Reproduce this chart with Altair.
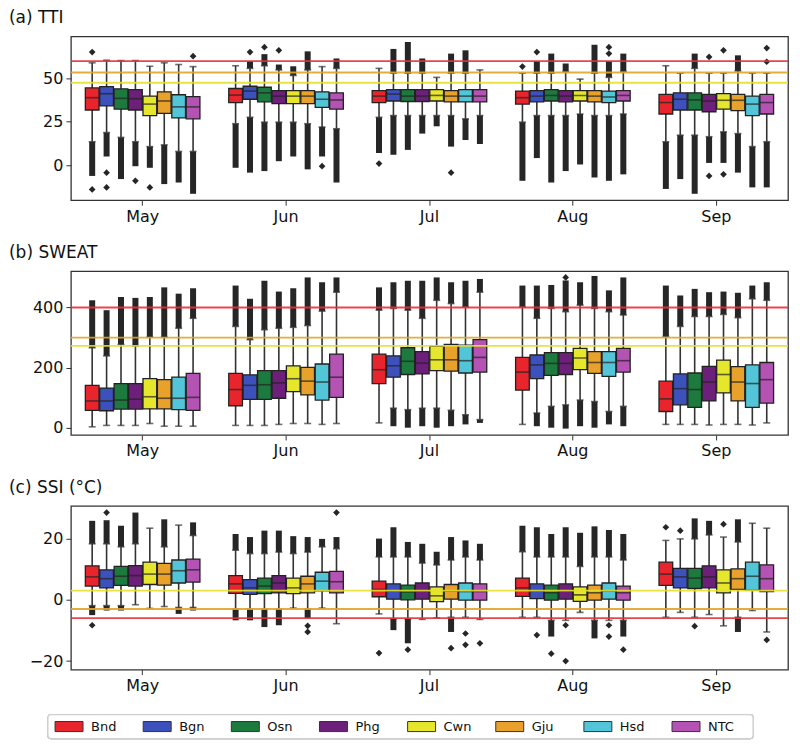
import altair as alt
import pandas as pd

MONTHS = ["May", "Jun", "Jul", "Aug", "Sep"]
STATIONS = ["Bnd", "Bgn", "Osn", "Phg", "Cwn", "Gju", "Hsd", "NTC"]
COLORS = ["#e8252d", "#3d51bd", "#1d7a3f", "#6c207a", "#e6e62c", "#e8a12a", "#52c6d8", "#b453b4"]

# ---------------- (a) TTI ----------------
TTI_Q1 = [[31.8, 34.2, 32.3, 31.8, 28.6, 29.9, 27.3, 26.7],
          [36.1, 38.0, 36.5, 35.5, 35.5, 35.5, 33.3, 32.3],
          [36.1, 37.0, 36.7, 36.7, 37.0, 36.5, 36.5, 36.5],
          [35.2, 36.5, 37.0, 36.5, 37.0, 36.5, 36.1, 37.0],
          [29.5, 31.8, 31.8, 30.8, 32.3, 31.4, 28.6, 29.5]]
TTI_MED = [[38.9, 41.2, 38.5, 38.3, 35.2, 37.0, 33.6, 33.6],
           [40.4, 42.7, 41.7, 39.8, 39.8, 39.8, 38.0, 37.6],
           [39.8, 41.0, 39.8, 39.8, 40.2, 39.8, 39.8, 39.8],
           [38.9, 39.8, 40.2, 39.8, 40.2, 39.8, 39.3, 40.2],
           [36.1, 38.0, 37.6, 37.0, 37.4, 37.4, 35.2, 36.1]]
TTI_Q3 = [[44.5, 45.3, 44.0, 43.6, 39.8, 42.3, 40.6, 39.5],
          [44.2, 45.5, 44.9, 43.0, 43.0, 43.0, 42.3, 41.7],
          [43.0, 43.6, 43.6, 43.6, 43.6, 43.0, 43.6, 43.6],
          [42.7, 43.0, 43.6, 43.0, 43.0, 43.0, 42.7, 43.0],
          [40.8, 41.7, 41.7, 40.8, 41.2, 40.8, 39.8, 40.8]]
TTI_WLO = [[13.5, 18.8, 16.0, 13.5, 10.7, 11.7, 7.9, 7.9],
           [23.9, 27.6, 24.8, 24.8, 24.8, 23.9, 22.0, 21.0],
           [27.6, 28.6, 28.6, 28.6, 28.6, 28.6, 26.7, 28.6],
           [24.8, 28.6, 28.6, 28.6, 29.5, 28.6, 28.6, 29.5],
           [13.5, 17.3, 17.3, 16.4, 19.2, 18.2, 10.7, 13.5]]
TTI_WHI = [[59.0, 60.5, 60.3, 60.3, 57.0, 59.0, 58.0, 56.8],
           [57.3, 55.8, 57.3, 54.9, 51.7, 54.9, 56.8, 55.8],
           [55.8, 53.0, 53.0, 53.0, 50.6, 53.0, 53.0, 54.9],
           [53.0, 53.0, 53.0, 54.0, 49.6, 53.0, 50.6, 54.0],
           [57.3, 53.0, 55.8, 53.0, 53.0, 54.3, 53.0, 53.0]]
TTI_OLO = [[-6.2, 5.0, -8.0, -0.6, -1.5, -10.9, -10.0, -16.5],
           [-1.5, -4.3, -3.4, 2.3, 5.0, -2.4, 5.0, -10.0],
           [7.0, 6.0, 8.8, 18.2, 22.4, 10.7, 14.5, 12.2],
           [-9.0, 4.1, -10.0, -3.4, 0.4, -7.1, -9.0, -5.3],
           [-13.7, -8.0, -16.5, 1.3, 1.3, -4.3, -12.8, -12.8]]
TTI_OHI = [[59.0, 60.5, 60.3, 60.3, 57.0, 59.0, 58.0, 56.8],
           [57.3, 60.0, 64.0, 58.0, 57.0, 65.6, 56.8, 61.5],
           [55.8, 67.0, 71.0, 61.5, 50.6, 64.3, 66.2, 54.9],
           [53.0, 60.0, 64.3, 58.6, 49.6, 69.4, 60.0, 64.3],
           [57.3, 53.0, 64.3, 53.0, 53.0, 63.3, 53.0, 53.0]]
TTI_ISO = [("May", "Bnd", 65.2), ("May", "Bnd", -14.0), ("May", "Bgn", -4.3), ("May", "Bgn", -12.8),
           ("May", "Phg", -9.0), ("May", "Cwn", -12.8), ("May", "NTC", 62.8),
           ("Jun", "Bgn", 65.2), ("Jun", "Osn", 68.0), ("Jun", "Phg", 66.2), ("Jun", "Hsd", -0.6),
           ("Jul", "Bnd", 0.9), ("Jul", "Gju", -4.3),
           ("Aug", "Bnd", 56.8), ("Aug", "Bgn", 65.2), ("Aug", "Hsd", 64.3), ("Aug", "Hsd", 68.0),
           ("Sep", "Phg", 62.4), ("Sep", "Phg", -6.2), ("Sep", "Cwn", 66.2), ("Sep", "Cwn", -5.3),
           ("Sep", "NTC", 59.6), ("Sep", "NTC", 67.5)]
TTI_LINES = [60, 53.4, 47.5]

# ---------------- (b) SWEAT ----------------
SW_Q1 = [[57.6, 56.5, 62, 62, 63, 63, 60, 57.6],
         [73, 94.6, 94.6, 98, 120, 109, 92, 101],
         [147, 168, 177, 179, 190, 188, 182, 185],
         [125, 163, 174, 177, 193, 181, 171, 185],
         [54, 76, 68, 89, 116, 89, 68, 82]]
SW_MED = [[89, 89, 92, 95, 103, 98, 98, 101],
          [127, 141, 143, 149, 163, 155, 152, 168],
          [193, 206, 221, 215, 226, 226, 223, 234],
          [185, 209, 214, 214, 232, 217, 217, 223],
          [96, 130, 127, 152, 177, 152, 147, 160]]
SW_Q3 = [[141, 132, 147, 147, 163, 160, 168, 181],
         [181, 176, 190, 190, 206, 201, 212, 245],
         [245, 239, 266, 253, 271, 277, 275, 293],
         [234, 242, 250, 250, 264, 253, 253, 264],
         [155, 179, 182, 204, 225, 203, 209, 217]]
SW_WLO = [[3, 7.6, 7.6, 7.6, 14, 5, 5, 5],
          [7.6, 7.6, 7.6, 11, 14, 14, 11, 14],
          [16, 65, 60, 65, 65, 58, 43, 27],
          [11, 49, 71, 76, 92, 87, 54, 71],
          [11, 11, 11, 9, 11, 11, 9, 16]]
SW_WHI = [[266, 239, 277, 272, 301, 301, 331, 364],
          [337, 293, 326, 331, 334, 340, 388, 451],
          [391, 397, 391, 364, 424, 413, 402, 451],
          [402, 364, 397, 386, 408, 397, 386, 375],
          [304, 337, 370, 370, 377, 366, 429, 424]]
SW_OLO = [[3, 7.6, 7.6, 7.6, 14, 5, 5, 5],
          [7.6, 7.6, 7.6, 11, 14, 14, 11, 14],
          [16, 5, 0, 5, 0, 5, 11, 16],
          [11, 5, 0, -3, 5, 0, 11, 5],
          [11, 11, 11, 9, 11, 11, 9, 16]]
SW_OHI = [[424, 391, 435, 432, 435, 467, 446, 464],
          [473, 429, 489, 453, 464, 500, 484, 500],
          [467, 484, 489, 489, 500, 484, 489, 495],
          [473, 473, 475, 490, 484, 505, 457, 500],
          [473, 440, 462, 451, 453, 449, 473, 484]]
SW_ISO = [("Aug", "Phg", 500)]
SW_LINES = [400, 300, 272]

# ---------------- (c) SSI ----------------
SSI_Q1 = [[4.5, 3.9, 4.7, 4.5, 5.0, 4.8, 5.5, 5.8],
          [2.1, 1.8, 2.0, 2.3, 2.0, 2.3, 2.9, 2.3],
          [1.0, 0.2, 0.0, 0.2, -0.6, 0.2, -0.1, -0.1],
          [1.1, 0.4, -0.1, 0.2, -0.5, -0.1, 0.2, -0.1],
          [4.7, 3.9, 3.7, 3.9, 2.3, 3.4, 3.1, 2.7]]
SSI_MED = [[7.5, 6.9, 7.7, 7.9, 8.4, 8.4, 9.5, 9.8],
           [5.2, 3.9, 4.5, 5.5, 3.9, 5.2, 6.1, 5.9],
           [3.4, 2.9, 2.6, 2.9, 1.3, 2.9, 2.7, 2.7],
           [3.9, 2.9, 2.3, 2.9, 1.6, 2.3, 2.9, 2.3],
           [8.4, 7.5, 7.1, 7.5, 5.5, 6.9, 7.7, 6.9]]
SSI_Q3 = [[11.1, 9.8, 10.9, 11.2, 12.3, 11.9, 13.0, 13.3],
          [7.9, 6.6, 7.1, 7.9, 7.1, 7.7, 9.0, 9.3],
          [6.1, 5.2, 4.8, 5.5, 4.2, 5.0, 5.5, 5.2],
          [7.1, 5.2, 4.8, 5.2, 4.2, 4.8, 5.5, 4.5],
          [12.3, 10.3, 10.3, 11.1, 9.8, 10.1, 12.3, 11.4]]
SSI_WLO = [[-1.9, -1.9, -1.9, -1.6, -2.8, -2.2, -2.5, -2.5],
           [-3.0, -3.0, -3.0, -3.0, -2.7, -3.0, -2.7, -7.8],
           [-4.6, -6.2, -6.2, -6.4, -5.9, -5.7, -5.7, -6.4],
           [-5.7, -5.7, -6.7, -6.7, -4.1, -6.7, -6.7, -6.7],
           [-5.7, -4.1, -5.7, -4.8, -8.5, -5.7, -3.5, -10.5]]
SSI_WHI = [[18.3, 18.3, 17.3, 18.3, 23.4, 17.3, 24.4, 21.0],
           [16.2, 15.1, 15.1, 15.6, 15.1, 15.6, 17.3, 16.7],
           [14.0, 14.0, 14.0, 12.0, 11.4, 13.0, 14.0, 13.0],
           [15.7, 14.0, 14.0, 14.0, 10.9, 14.0, 14.0, 13.0],
           [19.4, 19.9, 19.9, 21.2, 20.5, 18.9, 25.0, 23.4]]
SSI_OLO = [[-5.0, -3.5, -3.5, -1.6, -2.8, -2.2, -4.6, -3.5],
           [-6.7, -6.7, -8.9, -8.3, -2.7, -6.0, -2.7, -7.8],
           [-4.6, -9.9, -14.2, -6.4, -5.9, -10.5, -5.7, -6.4],
           [-5.7, -5.7, -12.0, -6.7, -4.1, -12.6, -6.7, -12.0],
           [-5.7, -4.1, -5.7, -4.8, -8.5, -10.5, -3.5, -10.5]]
SSI_OHI = [[25.8, 26.0, 24.2, 28.5, 23.4, 26.3, 24.4, 25.3],
           [21.5, 20.5, 22.6, 22.6, 20.8, 20.5, 19.9, 20.5],
           [20.0, 23.7, 18.9, 18.3, 15.7, 20.5, 19.4, 18.3],
           [24.2, 23.7, 21.5, 23.7, 21.9, 24.0, 22.8, 21.5],
           [19.4, 19.9, 26.6, 25.8, 20.5, 26.3, 25.0, 23.4]]
SSI_ISO = [("May", "Bnd", -8.3), ("May", "Bgn", 28.5),
           ("Jun", "Gju", -8.5), ("Jun", "Gju", -10.5), ("Jun", "NTC", 28.5),
           ("Jul", "Bnd", -17.4), ("Jul", "Osn", -16.3), ("Jul", "Gju", -15.8),
           ("Jul", "Hsd", -11.0), ("Jul", "Hsd", -14.7), ("Jul", "NTC", -14.2),
           ("Aug", "Bgn", -11.5), ("Aug", "Osn", -17.6), ("Aug", "Phg", -8.3), ("Aug", "Phg", -20.0),
           ("Aug", "Hsd", -8.3), ("Aug", "Hsd", -12.0), ("Aug", "NTC", -16.3),
           ("Sep", "Bnd", 23.7), ("Sep", "Bgn", 22.6), ("Sep", "Osn", -8.6),
           ("Sep", "Cwn", 24.7), ("Sep", "NTC", -13.1)]
SSI_LINES = [3, -3, -6]

FONT = "DejaVu Sans"
DARK = "#262626"


def stats_frame(q1, med, q3, wlo, whi, olo, ohi):
    rows = []
    for mi, m in enumerate(MONTHS):
        for si, s in enumerate(STATIONS):
            rows.append(dict(month=m, station=s, q1=q1[mi][si], med=med[mi][si], q3=q3[mi][si],
                             wlo=wlo[mi][si], whi=whi[mi][si], olo=olo[mi][si], ohi=ohi[mi][si]))
    return pd.DataFrame(rows)


def panel(title, df, iso, lines, line_colors, domain, ticks):
    x = alt.X("month:N", sort=MONTHS, title=None,
              scale=alt.Scale(domain=MONTHS, paddingInner=0, paddingOuter=0),
              axis=alt.Axis(labelAngle=0, labelFontSize=16, labelFont=FONT, labelColor="#111",
                            tickSize=5, tickColor="#333", labelPadding=3, domain=False))
    xo = alt.XOffset("station:N", sort=STATIONS,
                     scale=alt.Scale(domain=STATIONS, paddingInner=0.05, paddingOuter=1.0))
    y_scale = alt.Scale(domain=domain, nice=False, zero=False)
    y_axis = alt.Axis(values=ticks, labelFontSize=16, labelFont=FONT, labelColor="#111",
                      tickSize=5, tickColor="#333", grid=False, domain=False, title=None,
                      minExtent=62, maxExtent=62, labelPadding=3)

    base = alt.Chart(df).encode(x=x, xOffset=xo)

    up_out = base.transform_filter("datum.ohi > datum.whi").mark_rule(
        strokeWidth=6, color=DARK).encode(y=alt.Y("whi:Q", scale=y_scale, axis=y_axis), y2="ohi:Q")
    lo_out = base.transform_filter("datum.olo < datum.wlo").mark_rule(
        strokeWidth=6, color=DARK).encode(y=alt.Y("olo:Q", scale=y_scale, axis=y_axis), y2="wlo:Q")
    whisk = base.mark_rule(strokeWidth=1.6, color="#333").encode(
        y=alt.Y("wlo:Q", scale=y_scale, axis=y_axis), y2="whi:Q")
    cap_hi = base.mark_tick(size=7, thickness=1.6, color="#333").encode(
        y=alt.Y("whi:Q", scale=y_scale, axis=y_axis))
    cap_lo = base.mark_tick(size=7, thickness=1.6, color="#333").encode(
        y=alt.Y("wlo:Q", scale=y_scale, axis=y_axis))
    box = base.mark_bar(stroke="#222", strokeWidth=1.3, opacity=1).encode(
        y=alt.Y("q1:Q", scale=y_scale, axis=y_axis), y2="q3:Q",
        fill=alt.Fill("station:N", sort=STATIONS,
                      scale=alt.Scale(domain=STATIONS, range=COLORS), legend=None))
    med = base.mark_tick(size=13.5, thickness=1.6, color="#222").encode(
        y=alt.Y("med:Q", scale=y_scale, axis=y_axis))

    iso_df = pd.DataFrame(iso, columns=["month", "station", "value"])
    pts = alt.Chart(iso_df).mark_point(shape="diamond", filled=True, size=45, color=DARK, opacity=1).encode(
        x=x, xOffset=xo, y=alt.Y("value:Q", scale=y_scale, axis=y_axis))

    ldf = pd.DataFrame({"value": lines, "col": line_colors})
    hl = alt.Chart(ldf).mark_rule(strokeWidth=1.8, opacity=0.9).encode(
        y=alt.Y("value:Q", scale=y_scale, axis=y_axis), color=alt.Color("col:N", scale=None))

    return alt.layer(up_out, lo_out, whisk, cap_hi, cap_lo, box, med, pts, hl).properties(
        width=718, height=164,
        title=alt.TitleParams(title, anchor="start", frame="bounds", fontSize=17, font=FONT,
                              fontWeight="normal", color="#111", offset=9))


RED, ORANGE, YELLOW = "#e8303a", "#e2a526", "#e6e02a"

pa = panel("(a) TTI", stats_frame(TTI_Q1, TTI_MED, TTI_Q3, TTI_WLO, TTI_WHI, TTI_OLO, TTI_OHI),
           TTI_ISO, TTI_LINES, [RED, ORANGE, YELLOW], [-20.2, 74.2], [0, 25, 50])
pb = panel("(b) SWEAT", stats_frame(SW_Q1, SW_MED, SW_Q3, SW_WLO, SW_WHI, SW_OLO, SW_OHI),
           SW_ISO, SW_LINES, [RED, ORANGE, YELLOW], [-24, 521], [0, 200, 400])
pc = panel("(c) SSI (°C)", stats_frame(SSI_Q1, SSI_MED, SSI_Q3, SSI_WLO, SSI_WHI, SSI_OLO, SSI_OHI),
           SSI_ISO, SSI_LINES, [YELLOW, ORANGE, RED], [-22.8, 30.7], [-20, 0, 20])

# legend drawn as its own small chart from the station list; its box sits a little left of the plots
LEG_W = 683
leg_df = pd.DataFrame({"station": STATIONS})
leg_x = alt.X("station:N", sort=STATIONS, axis=None,
              scale=alt.Scale(domain=STATIONS, paddingInner=0, paddingOuter=0, range=[-23, LEG_W]))
leg_frame = alt.Chart(leg_df).mark_rect(
    fill="white", stroke="#cfcfcf", strokeWidth=1.2, cornerRadius=3
).encode(x=alt.value(-23), x2=alt.value(LEG_W), y=alt.value(0), y2=alt.value(24))
leg_sw = alt.Chart(leg_df).mark_point(
    shape="M-1,-0.36H1V0.36H-1Z", size=784, filled=True, opacity=1, stroke="#333", strokeWidth=1,
    xOffset=-23
).encode(x=leg_x, y=alt.value(12),
         fill=alt.Fill("station:N", sort=STATIONS,
                       scale=alt.Scale(domain=STATIONS, range=COLORS), legend=None))
leg_tx = alt.Chart(leg_df).mark_text(align="left", baseline="middle", fontSize=13, font=FONT,
                                     color="#111", xOffset=-1).encode(
    x=leg_x, y=alt.value(12), text="station:N")
leg = alt.layer(leg_frame, leg_sw, leg_tx).properties(
    width=LEG_W, height=24, view=alt.ViewBackground(stroke="transparent"))

chart = alt.vconcat(pa, pb, pc, leg, spacing=18).properties(
    padding={"left": 0, "right": 2, "top": 0, "bottom": 1}
).configure_view(stroke="#333", strokeWidth=1.3)

chart.save("out.html", embed_options={"renderer": "svg", "actions": False})
